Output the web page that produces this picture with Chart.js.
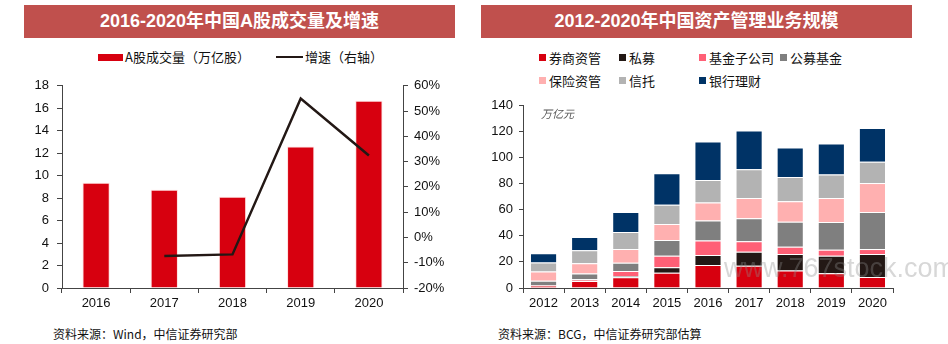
<!DOCTYPE html>
<html>
<head>
<meta charset="utf-8">
<script src="https://cdn.jsdelivr.net/npm/chart.js@4.4.0/dist/chart.umd.min.js"></script>
<style>
  html, body { margin: 0; padding: 0; background: #fff; }
  #wrap { position: relative; width: 948px; height: 344px; overflow: hidden; font-family: "Liberation Sans", Arial, "Noto Sans CJK SC", sans-serif; }
  .title { position: absolute; top: 5px; height: 33px; line-height: 33px; background: #C0504D; color: #fff; text-align: center; font-weight: bold; font-size: 18px; font-family: "Liberation Sans", Arial, "Noto Sans CJK SC", sans-serif; }
  .lg { position: absolute; font-size: 13px; color: #111; line-height: 16px; white-space: nowrap; font-family: "Noto Sans CJK SC", sans-serif; }
  .sw { position: absolute; }
  .src { position: absolute; top: 325px; font-size: 12px; color: #111; white-space: nowrap; font-family: "Noto Sans CJK SC", sans-serif; }
  canvas { position: absolute; }
  .wm { position: absolute; left: 724px; top: 253px; font-size: 27px; color: rgba(140,140,140,0.35); font-family: "Liberation Sans", Arial, sans-serif; white-space: nowrap; pointer-events: none; }
  .unit { position: absolute; left: 541px; top: 105px; font-size: 11px; color: #555; font-family: "Noto Sans CJK SC", sans-serif; font-style: italic; }
</style>
</head>
<body>
<div id="wrap">
  <div class="title" style="left:24px;width:431px;">2016-2020年中国A股成交量及增速</div>
  <div class="title" style="left:481px;width:431px;">2012-2020年中国资产管理业务规模</div>

  <div class="sw" style="left:98px;top:54px;width:25px;height:7px;background:#D7000F;"></div>
  <div class="lg" style="left:125px;top:49px;">A股成交量（万亿股）</div>
  <div class="sw" style="left:276px;top:56px;width:27px;height:2px;background:#231815;"></div>
  <div class="lg" style="left:305px;top:49px;">增速（右轴）</div>

  <div id="legend2"></div>

  <canvas id="c1" width="470" height="250" style="left:0;top:70px;"></canvas>
  <canvas id="c2" width="478" height="250" style="left:470px;top:70px;"></canvas>

  <div class="unit">万亿元</div>
  <div class="wm">www.767stock.com</div>

  <div class="src" style="left:53px;">资料来源：Wind，中信证券研究部</div>
  <div class="src" style="left:498px;">资料来源：BCG，中信证券研究部估算</div>
</div>
<script>
// ---- Left chart data ----
const volumeYears = ['2016', '2017', '2018', '2019', '2020'];
const volume = [9.38, 8.74, 8.12, 12.59, 16.68];          // 万亿股
const growth = [null, -7.3, -6.7, 55.0, 32.4];             // %

// ---- Right chart data ----
const assetYears = ['2012', '2013', '2014', '2015', '2016', '2017', '2018', '2019', '2020'];
const brokerage = [1.8, 5.4, 8.2, 11.7, 17.6, 17.1, 13.3, 11.2, 8.4];   // 券商资管
const privateFund = [0.2, 0.2, 1.0, 4.1, 7.7, 10.7, 12.8, 13.5, 17.6]; // 私募
const fundSub = [0.2, 1.1, 3.8, 8.9, 11.0, 7.9, 5.4, 4.6, 3.8];        // 基金子公司
const mutualFund = [3.4, 4.3, 6.4, 12.0, 15.3, 17.6, 19.1, 21.2, 28.3];// 公募基金
const insurance = [7.1, 7.9, 10.5, 12.2, 13.8, 15.6, 15.8, 18.4, 22.2];// 保险资管
const trust = [6.9, 10.0, 13.0, 14.8, 17.3, 21.9, 18.6, 17.9, 16.3];   // 信托
const bankWM = [6.9, 10.2, 15.3, 24.0, 29.3, 29.6, 22.4, 23.7, 25.8];  // 银行理财

const seriesNames = ['券商资管', '私募', '基金子公司', '公募基金', '保险资管', '信托', '银行理财'];
const seriesData = [brokerage, privateFund, fundSub, mutualFund, insurance, trust, bankWM];
const seriesColors = ['#D7000F', '#231815', '#FF6076', '#7F7F7F', '#FFB0B0', '#B3B3B3', '#003366'];

// legend for right chart (HTML)
const legendPos = [[539, 50], [619, 50], [699, 50], [780, 50], [539, 73], [619, 73], [699, 73]];
const lg2 = document.getElementById('legend2');
seriesNames.forEach((n, i) => {
  const [x, y] = legendPos[i];
  const sw = document.createElement('div');
  sw.className = 'sw';
  sw.style.cssText = `left:${x}px;top:${y + 4}px;width:7px;height:7px;background:${seriesColors[i]};`;
  lg2.appendChild(sw);
  const t = document.createElement('div');
  t.className = 'lg';
  t.style.cssText = `left:${x + 10}px;top:${y}px;`;
  t.textContent = n;
  lg2.appendChild(t);
});

Chart.defaults.font.family = '"Liberation Sans", Arial, "Noto Sans CJK SC", sans-serif';
Chart.defaults.font.size = 13;
Chart.defaults.color = '#111';

const axisColor = '#444';
function xAxis() {
  return {
    grid: { display: true, drawOnChartArea: false, drawTicks: true, tickLength: 5, color: axisColor, offset: true },
    border: { display: true, color: axisColor, width: 1 },
    ticks: { color: '#111', padding: 3, font: { size: 13 } },
    afterFit: s => { s.height = 32; }
  };
}

new Chart(document.getElementById('c1'), {
  data: {
    labels: volumeYears,
    datasets: [
      {
        type: 'line', label: '增速（右轴）', data: growth, yAxisID: 'y1',
        borderColor: '#231815', borderWidth: 2.5, pointRadius: 0, tension: 0, spanGaps: false, order: 0
      },
      {
        type: 'bar', label: 'A股成交量（万亿股）', data: volume, yAxisID: 'y',
        backgroundColor: '#D7000F', borderColor: 'rgba(255,200,200,0.6)', borderWidth: 1,
        categoryPercentage: 1, barPercentage: 0.4, order: 1
      }
    ]
  },
  options: {
    responsive: false, animation: false, devicePixelRatio: 1,
    layout: { padding: { top: 14, left: 0, right: 0, bottom: 0 } },
    plugins: { legend: { display: false }, tooltip: { enabled: false } },
    scales: {
      x: xAxis(),
      y: {
        position: 'left', min: 0, max: 18,
        ticks: { stepSize: 2, color: '#111', padding: 8 },
        grid: { display: true, drawOnChartArea: false, tickLength: 5, color: axisColor },
        border: { display: true, color: axisColor },
        afterFit: s => { s.width = 62; }
      },
      y1: {
        position: 'right', min: -20, max: 60,
        ticks: { stepSize: 10, color: '#111', padding: 6, callback: v => v + '%' },
        grid: { display: true, drawOnChartArea: false, tickLength: 5, color: axisColor },
        border: { display: true, color: axisColor },
        afterFit: s => { s.width = 67; }
      }
    }
  }
});

new Chart(document.getElementById('c2'), {
  type: 'bar',
  data: {
    labels: assetYears,
    datasets: seriesNames.map((n, i) => ({
      label: n, data: seriesData[i], backgroundColor: seriesColors[i],
      borderColor: 'rgba(255,255,255,0.45)', borderWidth: 1,
      categoryPercentage: 1, barPercentage: 0.66
    }))
  },
  options: {
    responsive: false, animation: false, devicePixelRatio: 1,
    layout: { padding: { top: 35, left: 0, right: 55, bottom: 0 } },
    plugins: { legend: { display: false }, tooltip: { enabled: false } },
    scales: {
      x: Object.assign(xAxis(), { stacked: true }),
      y: {
        stacked: true, position: 'left', min: 0, max: 140,
        ticks: { stepSize: 20, color: '#111', padding: 6 },
        grid: { display: true, drawOnChartArea: false, tickLength: 4, color: axisColor },
        border: { display: true, color: axisColor },
        afterFit: s => { s.width = 53; }
      }
    }
  }
});
</script>
</body>
</html>
